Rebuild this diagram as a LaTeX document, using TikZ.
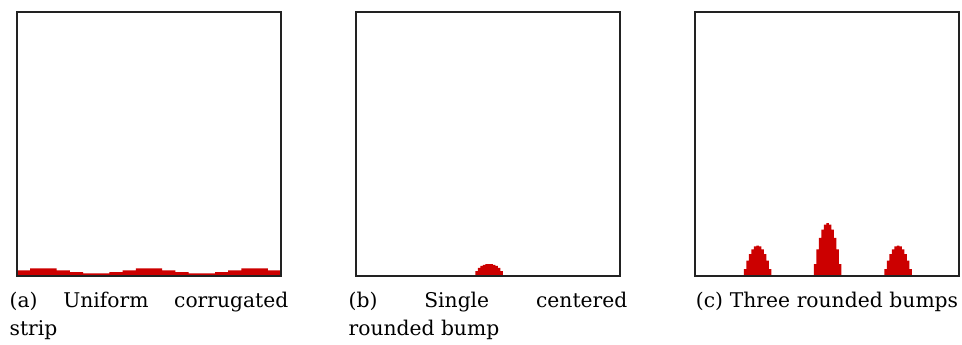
\documentclass[tikz,border=0pt]{standalone}
\usepackage{fontspec}
\setmainfont{DejaVu Serif}
\usepackage{xcolor}
\definecolor{CRed}{HTML}{CC0000}
\definecolor{CFrame}{HTML}{222222}
\usepackage{tikz}
\usetikzlibrary{positioning}
\hyphenpenalty=10000
\tikzstyle{panelNode}=[rectangle, draw=CFrame, line width=1.1pt,
  minimum width=198pt, minimum height=198pt, inner sep=0pt]
\tikzstyle{captionNode}=[text width=209pt, align=justify, inner sep=0pt,
  anchor=base, font=\fontsize{15.2}{21.3}\selectfont]
\tikzstyle{bumpFill}=[fill=CRed]

\begin{document}
\begin{tikzpicture}[x=0.75pt,y=-0.75pt]
\useasboundingbox (0,0) rectangle (962,345);

% (a) corrugated strip, one column per cell
\fill[bumpFill] (17,276) \foreach \h [count=\i from 0] in
  {5.7,7.7,7.7,5.7,4,2.7,2.7,4,5.7,7.7,7.7,5.7,4,2.7,2.7,4,5.7,7.7,7.7,5.7}
  { -- ({17+13.2*\i},{276-\h}) -- ({17+13.2*(\i+1)},{276-\h}) } -- (281,276) -- cycle;

% (b) single dome
\fill[bumpFill] (475.25,276) \foreach \k in {-5,...,5}
  { -- ({489+(\k-0.5)*2.5},{276-12*sqrt(1-(\k*2.5/13.75)^2)})
    -- ({489+(\k+0.5)*2.5},{276-12*sqrt(1-(\k*2.5/13.75)^2)}) } -- (502.75,276) -- cycle;

% (c) three parabolic bumps
\foreach \cx/\hh in {757.7/30.5, 827.5/53, 898/30.5} {
  \fill[bumpFill] ({\cx-13.75},276) \foreach \k in {-5,...,5}
    { -- ({\cx+(\k-0.5)*2.5},{276-\hh*(1-(\k*2.5/14.2)^2)})
      -- ({\cx+(\k+0.5)*2.5},{276-\hh*(1-(\k*2.5/14.2)^2)}) } -- ({\cx+13.75},276) -- cycle;
}

\node[panelNode] (panelA) at (149,144) {};
\node[panelNode] (panelB) at (488,144) {};
\node[panelNode] (panelC) at (827,144) {};

\node[captionNode] (capA) at (149,307) {(a) Uniform corrugated strip};
\node[captionNode] (capB) at (488,307) {(b) Single centered rounded bump};
\node[captionNode, align=center] (capC) at (827,307) {(c) Three rounded bumps};
\end{tikzpicture}
\end{document}
